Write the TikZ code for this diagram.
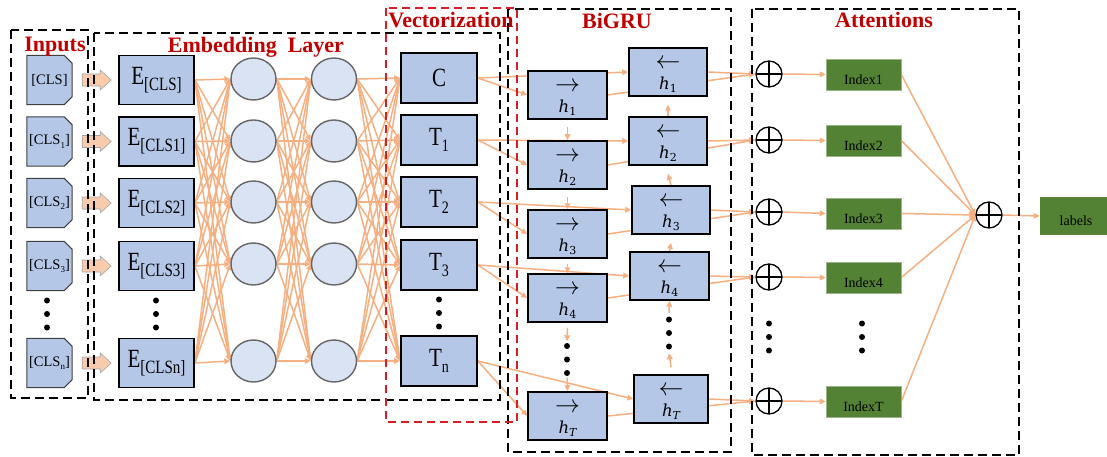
\documentclass[tikz,border=0pt]{standalone}
\usepackage{graphicx}
\usepackage{fontspec}
\setmainfont{Liberation Serif}
\newfontfamily\hfont{DejaVu Serif}
\usetikzlibrary{arrows.meta,shapes.geometric,calc}

\definecolor{boxblue}{RGB}{180,199,231}
\definecolor{circblue}{RGB}{218,227,243}
\definecolor{linkor}{RGB}{245,175,128}
\definecolor{arrfill}{RGB}{248,203,173}
\definecolor{idxgreen}{RGB}{84,130,53}
\definecolor{titlered}{RGB}{192,0,0}
\definecolor{framered}{RGB}{214,30,36}

\pgfdeclarelayer{links}
\pgfsetlayers{links,main}

% lowered, smaller text used as a subscript
\newcommand{\lowtext}[2]{\raisebox{-0.5ex}{\fontsize{#1}{#1}\selectfont #2}}
% stretched label text inside the blue boxes
\newcommand{\tall}[1]{\scalebox{1}[1.25]{#1}}
% content drawn lower while keeping its measured size
\newcommand{\dropby}[2]{\raisebox{-#1}[\height][\depth]{#2}}
% hidden-state label: arrow above an italic h with its index
\newcommand{\hlab}[2]{\dropby{4pt}{\begin{tabular}{@{}c@{}}%
  {\fontsize{23}{19}\selectfont$#1$}\\[4pt]%
  {\hfont\itshape h}\raisebox{-0.35ex}{\fontsize{11}{11}\selectfont\hfont#2}%
  \end{tabular}}}

\begin{document}
\begin{tikzpicture}[x=1pt,y=-1pt,
  link/.style={draw=linkor,line width=1.5pt,-{Triangle[length=6pt,width=5.5pt]}},
  tokbox/.style={minimum width=45pt,minimum height=49pt,inner sep=0pt,
    font=\fontsize{14.5}{14.5}\selectfont},
  tokshape/.style={fill=boxblue,draw=black!75,line width=1pt},
  blockarr/.style={fill=arrfill,draw=black!35,line width=0.6pt},
  ebox/.style={draw=black,line width=1.8pt,fill=boxblue,minimum width=75pt,
    minimum height=49pt,inner sep=0pt,font=\fontsize{21}{21}\selectfont},
  neuron/.style={ellipse,draw=black!60,line width=1.4pt,fill=circblue,
    minimum width=45pt,minimum height=42pt,inner sep=0pt},
  vbox/.style={ebox,minimum width=76pt,minimum height=50pt},
  gbox/.style={draw=black,line width=1.5pt,fill=boxblue,minimum height=48pt,
    minimum width=79pt,inner sep=0pt,font=\fontsize{16.5}{16}\selectfont},
  osum/.style={circle,draw=black,line width=1.3pt,fill=white,minimum size=26pt,
    inner sep=0pt,path picture={\draw[line width=1.3pt]
      (path picture bounding box.north) -- (path picture bounding box.south)
      (path picture bounding box.west) -- (path picture bounding box.east);}},
  ixbox/.style={fill=idxgreen,draw=idxgreen!60!white,line width=0.5pt,
    minimum width=75pt,minimum height=31pt,inner sep=0pt,
    font=\fontsize{14}{14}\selectfont},
  dotcol/.style={minimum width=8pt,minimum height=36pt,inner sep=0pt},
  title/.style={text=titlered,font=\fontsize{22}{22}\selectfont\bfseries,
    anchor=base,inner sep=0pt},
  frame/.style={draw=black,line width=1.8pt,dash pattern=on 9pt off 5pt},
  redframe/.style={draw=framered,line width=1.8pt,dash pattern=on 8pt off 5pt}
]
\useasboundingbox (0,0) rectangle (1107,457);

% ---------------- input tokens ----------------
\node[tokbox] (t1) at (49.5,80)    {[CLS]};
\node[tokbox] (t2) at (49.5,141.5) {[CLS\lowtext{9}{1}]};
\node[tokbox] (t3) at (49.5,203)   {[CLS\lowtext{9}{2}]};
\node[tokbox] (t4) at (49.5,266)   {[CLS\lowtext{9}{3}]};
\node[tokbox] (t5) at (49.5,363)   {[CLS\lowtext{9}{n}]};
\node[dotcol] (tdots) at (47,314) {};

% ---------------- embeddings ----------------
\node[ebox] (e1) at (156.5,80)    {\tall{E\lowtext{15}{[CLS]}}};
\node[ebox] (e2) at (156.5,141.5) {\tall{E\lowtext{15}{[CLS1]}}};
\node[ebox] (e3) at (156.5,203)   {\tall{E\lowtext{15}{[CLS2]}}};
\node[ebox] (e4) at (156.5,266)   {\tall{E\lowtext{15}{[CLS3]}}};
\node[ebox] (e5) at (156.5,363)   {\tall{E\lowtext{15}{[CLSn]}}};
\node[dotcol] (edots) at (156,314) {};

% hidden neurons
\foreach \i/\y in {1/79,2/141,3/202,4/264,5/361}{
  \node[neuron] (c\i) at (253.5,\y) {};
  \node[neuron] (d\i) at (334,\y) {};
}

% ---------------- vectorization ----------------
\node[vbox] (v1) at (439,78)  {\tall{C}};
\node[vbox] (v2) at (439,140) {\tall{T\lowtext{14}{1}}};
\node[vbox] (v3) at (439,202) {\tall{T\lowtext{14}{2}}};
\node[vbox] (v4) at (439,265) {\tall{T\lowtext{14}{3}}};
\node[vbox] (v5) at (439,361) {\tall{T\lowtext{14}{n}}};
\node[dotcol] (vdots) at (439,313) {};

% ---------------- BiGRU ----------------
\node[gbox] (f1) at (567.5,95)  {\hlab{\rightarrow}{1}};
\node[gbox] (f2) at (567.5,165) {\hlab{\rightarrow}{2}};
\node[gbox] (f3) at (567.5,234) {\hlab{\rightarrow}{3}};
\node[gbox] (f4) at (567.5,298) {\hlab{\rightarrow}{4}};
\node[gbox] (f5) at (567.5,416) {\hlab{\rightarrow}{\itshape T}};
\node[dotcol] (fdots) at (567,359.5) {};

\node[gbox,minimum width=78pt] (b1) at (668,72)   {\hlab{\leftarrow}{1}};
\node[gbox,minimum width=78pt] (b2) at (668,141)  {\hlab{\leftarrow}{2}};
\node[gbox,minimum width=78pt] (b3) at (671,210)  {\hlab{\leftarrow}{3}};
\node[gbox] (b4) at (669.5,276) {\hlab{\leftarrow}{4}};
\node[gbox,minimum width=74pt] (b5) at (671,399)  {\hlab{\leftarrow}{\itshape T}};
\node[dotcol,minimum height=40pt] (bdots) at (669,333) {};

% ---------------- attentions ----------------
\foreach \i/\y in {1/74,2/140,3/212,4/277,5/401}
  \node[osum] (o\i) at (769,\y) {};
\node[ixbox] (ix1) at (863.5,74.5)  {\dropby{5pt}{Index1}};
\node[ixbox] (ix2) at (863.5,140.5) {\dropby{5pt}{Index2}};
\node[ixbox] (ix3) at (863.5,213.5) {\dropby{5pt}{Index3}};
\node[ixbox] (ix4) at (863.5,277.5) {\dropby{5pt}{Index4}};
\node[ixbox] (ix5) at (863.5,401.5) {\dropby{5pt}{IndexT}};
\node[dotcol] (odots) at (769,337) {};
\node[dotcol] (xdots) at (862,337) {};
\node[osum] (fin) at (989,215) {};
\node[fill=idxgreen,minimum width=72pt,minimum height=38pt,inner sep=0pt,
      font=\fontsize{14}{14}\selectfont] (lab) at (1076,216) {\dropby{5pt}{labels}};

% vertical ellipses
\foreach \n in {tdots,edots,vdots,fdots,bdots,odots,xdots}
  \fill (\n.center) circle (3pt) ([yshift=13.5pt]\n.center) circle (3pt)
        ([yshift=-13.5pt]\n.center) circle (3pt);

% ---------------- connectors (behind the boxes) ----------------
\begin{pgfonlayer}{links}
  % token outlines with cut right corners
  \foreach \i in {1,...,5}
    \draw[tokshape] (t\i.north west) -- ([xshift=-8pt]t\i.north east)
      -- ([yshift=-8pt]t\i.north east) -- ([yshift=8pt]t\i.south east)
      -- ([xshift=-8pt]t\i.south east) -- (t\i.south west) -- cycle;
  % fully connected embedding layers
  \foreach \i in {1,...,5}
    \foreach \j in {1,...,5}{
      \draw[link] (e\i.east) -- (c\j.west);
      \draw[link] (c\i.east) -- (d\j.west);
      \draw[link] (d\i.east) -- (v\j.west);
    }
  % vectors into both GRU directions, states into the sums
  \foreach \i in {1,...,5}{
    \draw[link] (v\i.east) -- (f\i.west);
    \draw[link] (v\i.east) -- (b\i.west);
    \draw[link] (f\i.east) -- (o\i.west);
    \draw[link] (b\i.east) -- (o\i.west);
    \draw[link] (o\i.east) -- (ix\i.west);
    \draw[link] (ix\i.east) -- (fin.west);
  }
  \draw[link] (fin.east) -- (lab.west);
  % forward recurrence
  \draw[link] ([yshift=-7pt]f1.south) -- (f2.north);
  \draw[link] ([yshift=-7pt]f2.south) -- (f3.north);
  \draw[link] ([yshift=-5pt]f3.south) -- (f4.north);
  \draw[link] ([yshift=-5pt]f4.south) -- (fdots.north);
  \draw[link] (fdots.south) -- (f5.north);
  % backward recurrence
  \draw[link] (b2.north) -- ([yshift=-8pt]b1.south);
  \draw[link] (b3.north) -- ([yshift=-8pt]b2.south);
  \draw[link] (b4.north) -- ([yshift=-8pt]b3.south);
  \draw[link] (bdots.north) -- (b4.south);
  \draw[link] ([yshift=7pt]b5.north) -- (bdots.south);
\end{pgfonlayer}

% block arrows from tokens to embeddings
\foreach \i in {1,...,5}
  \draw[blockarr] ([xshift=10pt]t\i.east) ++(0,-6) -- ++(18,0) -- ++(0,-4)
    -- ++(11,10) -- ++(-11,10) -- ++(0,-4) -- ++(-18,0) -- cycle;

% ---------------- stage frames and titles ----------------
\draw[frame] (11,30) rectangle (88,398);
\draw[frame] (94,33) rectangle (500,400);
\draw[frame] (508,9) rectangle (731,452);
\draw[frame] (752,9) rectangle (1019,455);
\draw[redframe] (386,8) rectangle (517,422);

\node[title] (tin)  at (55,52)    {Inputs};
\node[title] (temb) at (256,53)   {Embedding\hspace{0.5em}Layer};
\node[title] (tvec) at (451,28)   {Vectorization};
\node[title] (tgru) at (617,29)   {BiGRU};
\node[title] (tatt) at (884,28)   {Attentions};
\end{tikzpicture}
\end{document}
